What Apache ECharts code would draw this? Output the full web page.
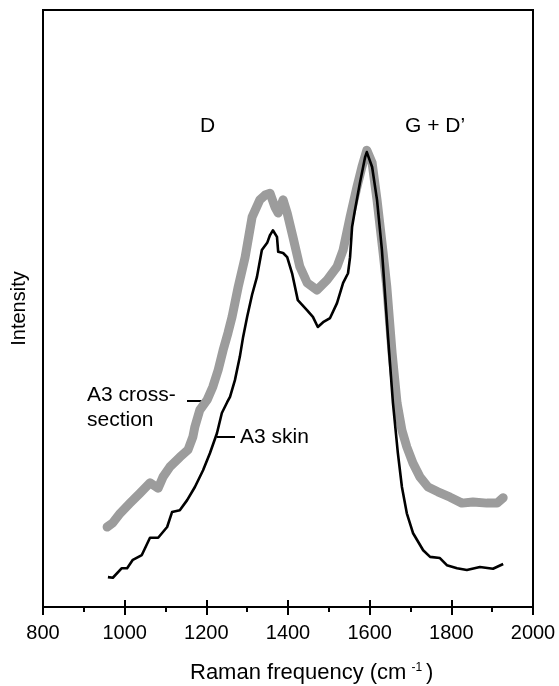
<!DOCTYPE html>
<html>
<head>
<meta charset="utf-8">
<script src="https://cdn.jsdelivr.net/npm/echarts@6/dist/echarts.min.js"></script>
<style>
html,body{margin:0;padding:0;background:#fff;}
#chart{width:559px;height:686px;}
</style>
</head>
<body>
<div id="chart"></div>
<script>
// Raman frequency (cm^-1) and relative intensity (arbitrary units, 0-100)
var skinX = [959,971,993,1006,1020,1042,1062,1082,1104,1116,1135,1153,1172,1192,1209,1226,1238,1251,1258,1270,1282,1290,1300,1312,1324,1336,1349,1356,1363,1373,1376,1388,1398,1410,1424,1447,1461,1473,1486,1503,1520,1535,1547,1552,1557,1564,1576,1589,1593,1606,1618,1630,1645,1657,1669,1679,1691,1706,1731,1748,1772,1789,1814,1838,1870,1902,1927];
var skinY = [5.0,4.9,6.5,6.5,7.9,8.7,11.6,11.6,13.4,15.9,16.2,17.9,20.1,22.9,25.8,29.1,32.5,34.3,35.2,38.0,41.9,45.2,48.6,52.3,55.3,59.8,61.0,62.3,63.1,62.0,59.5,59.3,58.6,55.9,51.4,49.7,48.6,46.9,47.7,48.4,50.9,54.3,55.9,58.6,63.7,66.5,71.0,75.4,76.2,73.7,68.2,59.8,45.2,34.2,25.8,20.1,15.7,12.4,9.5,8.4,8.2,7.0,6.5,6.2,6.7,6.4,7.2];

var crossX = [957,971,989,1013,1038,1062,1082,1094,1111,1135,1155,1167,1172,1184,1202,1216,1229,1241,1253,1263,1278,1295,1312,1331,1344,1356,1368,1376,1388,1398,1412,1429,1447,1471,1496,1520,1535,1552,1569,1581,1593,1606,1618,1633,1642,1655,1667,1679,1691,1706,1723,1743,1767,1797,1826,1853,1887,1912,1927];
var crossY = [13.4,14.1,15.7,17.4,19.1,20.8,19.9,21.8,23.5,25.1,26.3,28.5,30.2,33.0,34.7,36.9,39.7,43.0,45.9,48.6,53.6,58.6,65.3,68.2,69.0,69.3,67.0,66.0,68.2,66.0,62.0,57.0,54.3,53.1,54.8,57.0,59.8,65.3,70.4,73.7,76.5,74.4,68.2,59.3,53.6,42.5,34.2,29.6,26.8,24.1,21.8,20.1,19.3,18.4,17.4,17.6,17.4,17.4,18.3];

var xTicks = [800,1000,1200,1400,1600,1800,2000];
var peakLabels = ['D', 'G + D\u2019'];
var seriesNames = ['A3 cross-section', 'A3 skin'];

function pairs(xs, ys){ return xs.map(function(x,i){ return [x, ys[i]]; }); }

var FONT = '"Liberation Sans", Arial, Helvetica, sans-serif';
var chart = echarts.init(document.getElementById('chart'), null, {renderer:'canvas'});

var option = {
  animation:false,
  backgroundColor:'#fff',
  textStyle:{fontFamily:FONT, color:'#000'},
  grid:{left:43, right:26, top:10, bottom:79, show:true, borderColor:'#000', borderWidth:2, backgroundColor:'transparent'},
  xAxis:[{
    type:'value', min:xTicks[0], max:xTicks[xTicks.length-1], interval:200,
    axisLine:{show:true, onZero:false, lineStyle:{color:'#000', width:2}},
    axisTick:{show:true, length:8, lineStyle:{color:'#000', width:2}},
    minorTick:{show:true, splitNumber:2, length:5, lineStyle:{color:'#000', width:2}},
    splitLine:{show:false},
    axisLabel:{fontSize:20, color:'#000', fontFamily:FONT, margin:16,
      formatter:function(v){ return xTicks.indexOf(v) >= 0 ? String(v) : ''; }}
  },{
    type:'value', min:xTicks[0], max:xTicks[xTicks.length-1], interval:200, position:'bottom',
    axisLine:{show:false},
    axisTick:{show:true, inside:true, length:7, lineStyle:{color:'#000', width:2}},
    axisLabel:{show:false}, splitLine:{show:false}
  }],
  yAxis:{
    type:'value', min:0, max:100,
    name:'Intensity', nameLocation:'middle', nameRotate:90, nameGap:14,
    nameTextStyle:{fontSize:20, color:'#000', fontFamily:FONT},
    axisLine:{show:true, lineStyle:{color:'#000', width:2}},
    axisTick:{show:false}, axisLabel:{show:false}, splitLine:{show:false}
  },
  series:[{
    name:seriesNames[0], type:'line', showSymbol:false, symbol:'none',
    data:pairs(crossX, crossY),
    lineStyle:{color:'#9c9c9c', width:9, join:'round', cap:'round'}, z:2
  },{
    name:seriesNames[1], type:'line', showSymbol:false, symbol:'none',
    data:pairs(skinX, skinY),
    lineStyle:{color:'#000', width:2.6, join:'round'}, z:3
  }],
  graphic:[
    {type:'text', x:200, y:126, style:{text:peakLabels[0], font:'21px '+FONT, fill:'#000', verticalAlign:'middle', align:'left'}},
    {type:'text', x:405, y:126, style:{text:peakLabels[1], font:'21px '+FONT, fill:'#000', verticalAlign:'middle', align:'left'}},
    {type:'text', x:87, y:395, style:{text:'A3 cross-', font:'21px '+FONT, fill:'#000', verticalAlign:'middle', align:'left'}},
    {type:'text', x:87, y:420, style:{text:'section', font:'21px '+FONT, fill:'#000', verticalAlign:'middle', align:'left'}},
    {type:'line', shape:{x1:187, y1:401, x2:203, y2:401}, style:{stroke:'#000', lineWidth:2}},
    {type:'line', shape:{x1:217, y1:437, x2:235, y2:437}, style:{stroke:'#000', lineWidth:2}},
    {type:'text', x:240, y:437, style:{text:'A3 skin', font:'21px '+FONT, fill:'#000', verticalAlign:'middle', align:'left'}},
    {type:'text', x:190, y:673, style:{
      text:'{a|Raman frequency (cm}{s|-1}{a|)}', verticalAlign:'middle', align:'left',
      rich:{
        a:{fontSize:22, fontFamily:FONT, fill:'#000', color:'#000'},
        s:{fontSize:12, fontFamily:FONT, fill:'#000', color:'#000', verticalAlign:'top', padding:[0,4,0,5]}
      }}}
  ]
};
chart.setOption(option);
</script>
</body>
</html>
